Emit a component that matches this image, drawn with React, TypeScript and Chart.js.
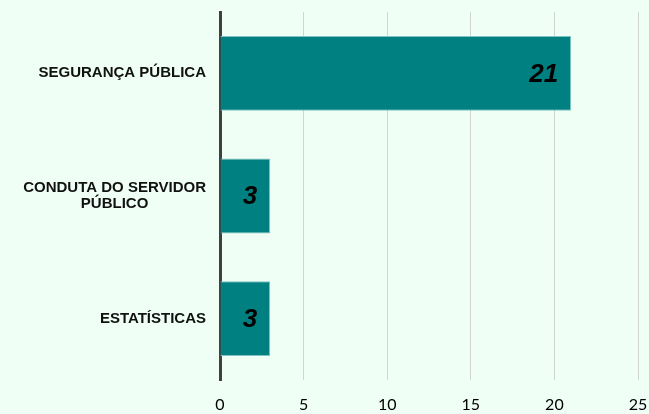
import React, { useEffect, useRef } from "react";
import { Chart, registerables } from "chart.js";

Chart.register(...registerables);

const categories: string[][] = [["SEGURANÇA PÚBLICA"], ["CONDUTA DO SERVIDOR", "PÚBLICO"], ["ESTATÍSTICAS"]];
const values: number[] = [21, 3, 3];
const xTicks: number[] = [0, 5, 10, 15, 20, 25];

const BG = "#EFFFF5";
const BAR = "#008080";

const yLabelPlugin = {
  id: "yLabels",
  afterDraw(chart: any) {
    const ctx = chart.ctx;
    const yScale = chart.scales.y;
    ctx.save();
    ctx.font = "bold 15px 'Liberation Sans', Arial, sans-serif";
    ctx.fillStyle = "#111111";
    ctx.textBaseline = "middle";
    ctx.textAlign = "center";
    const right = chart.chartArea.left - 14;
    categories.forEach((lines, i) => {
      const y = yScale.getPixelForTick(i);
      const w = Math.max(...lines.map((l) => ctx.measureText(l).width));
      const cx = right - w / 2;
      const lh = 16;
      const y0 = y - ((lines.length - 1) * lh) / 2;
      lines.forEach((l, j) => ctx.fillText(l, cx, y0 + j * lh));
    });
    ctx.restore();
  },
};

const valueLabelPlugin = {
  id: "valueLabels",
  afterDatasetsDraw(chart: any) {
    const ctx = chart.ctx;
    const meta = chart.getDatasetMeta(0);
    ctx.save();
    ctx.font = "italic bold 26px 'Liberation Sans', Arial, sans-serif";
    ctx.fillStyle = "#000000";
    ctx.textAlign = "right";
    ctx.textBaseline = "middle";
    meta.data.forEach((bar: any, i: number) => {
      ctx.fillText(String(values[i]), bar.x - 13, bar.y + 1);
    });
    ctx.restore();
  },
};

export default function App() {
  const ref = useRef<HTMLCanvasElement | null>(null);
  useEffect(() => {
    if (!ref.current) return;
    const chart = new Chart(ref.current, {
      type: "bar",
      data: {
        labels: categories.map((c) => c.join(" ")),
        datasets: [
          {
            data: values,
            backgroundColor: BAR,
            borderColor: "#7fc4c4",
            borderWidth: 1,
            barPercentage: 0.61,
            categoryPercentage: 1,
          },
        ],
      },
      options: {
        indexAxis: "y",
        animation: false,
        responsive: false,
        maintainAspectRatio: false,
        layout: { padding: { top: 12, right: 11, left: 0, bottom: 0 } },
        plugins: { legend: { display: false }, tooltip: { enabled: false } },
        scales: {
          x: {
            min: 0,
            max: 25,
            afterBuildTicks: (s: any) => {
              s.ticks = xTicks.map((v) => ({ value: v }));
            },
            afterFit: (s: any) => {
              s.height = 34;
              s.paddingRight = 0;
              s.paddingLeft = 0;
            },
            grid: {
              drawTicks: false,
              color: (c: any) => (c.tick && c.tick.value === 0 ? "rgba(0,0,0,0)" : "#cfd6d2"),
              lineWidth: 1,
            },
            border: { display: false },
            ticks: {
              padding: 15,
              color: "#000000",
              font: { size: 16, family: "Lato, 'Liberation Sans', sans-serif" },
            },
          },
          y: {
            afterFit: (s: any) => {
              s.width = 220;
            },
            grid: { display: false, drawTicks: false },
            border: { display: true, color: "#404040", width: 3 },
            ticks: { display: false },
          },
        },
      },
      plugins: [yLabelPlugin, valueLabelPlugin],
    });
    return () => chart.destroy();
  }, []);
  return (
    <div style={{ position: "fixed", left: 0, top: 0, width: 649, height: 414, background: BG }}>
      <canvas ref={ref} width={649} height={414} style={{ display: "block" }} />
    </div>
  );
}
